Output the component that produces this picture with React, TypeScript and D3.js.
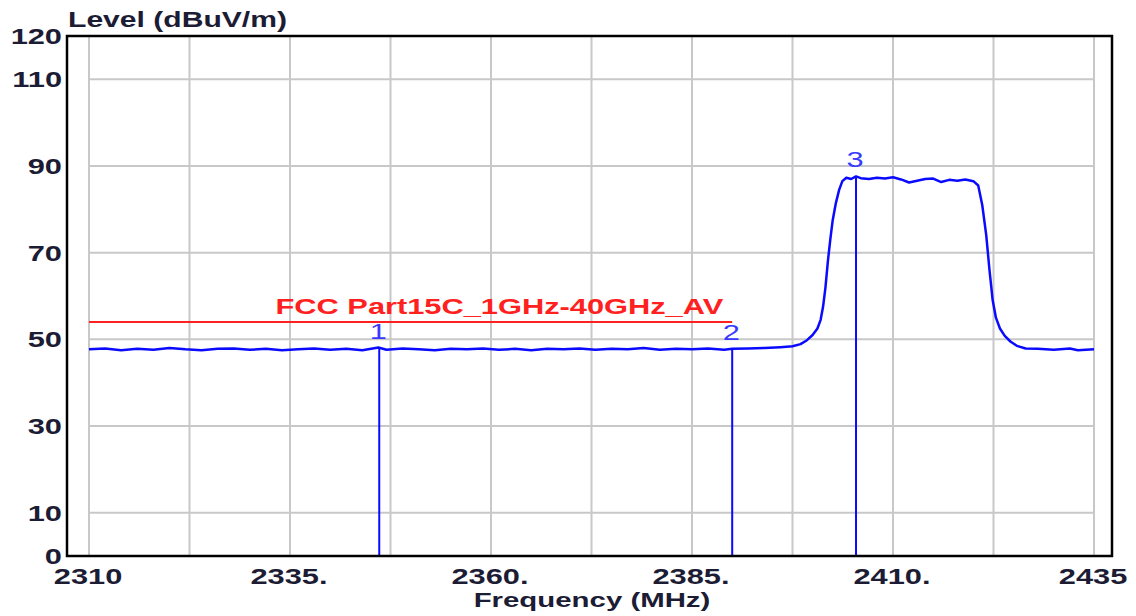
import * as d3 from 'd3';

// trace: [frequency MHz, level dBuV/m]
const traceFreq = [
  2310, 2312, 2314, 2316, 2318, 2320, 2322, 2324, 2326, 2328, 2330, 2332, 2334, 2336, 2338,
  2340, 2342, 2344, 2346, 2347, 2349, 2351, 2353, 2355, 2357, 2359, 2361, 2363, 2365, 2367,
  2369, 2371, 2373, 2375, 2377, 2379, 2381, 2383, 2385, 2387, 2389, 2390, 2392, 2394, 2396,
  2397.5, 2398.5, 2399.3, 2400, 2400.6, 2401, 2401.3, 2401.6, 2401.9, 2402.2, 2402.5, 2402.9,
  2403.3, 2403.7, 2404.2, 2404.8, 2405.4, 2406, 2407, 2408, 2409, 2410, 2411, 2412, 2413,
  2414, 2415, 2416, 2417, 2418, 2419, 2420, 2420.6, 2421.1, 2421.6, 2422, 2422.4, 2422.8,
  2423.3, 2423.9, 2424.6, 2425.4, 2426.5, 2428, 2430, 2432, 2433, 2435,
];
const traceLevel = [
  47.7, 47.9, 47.5, 47.8, 47.6, 48.0, 47.7, 47.5, 47.8, 47.9, 47.6, 47.8, 47.5, 47.7, 47.9,
  47.6, 47.8, 47.5, 48.1, 47.6, 47.9, 47.7, 47.5, 47.8, 47.7, 47.9, 47.6, 47.8, 47.5, 47.8,
  47.7, 47.9, 47.6, 47.8, 47.7, 48.0, 47.6, 47.8, 47.7, 47.9, 47.6, 47.8, 47.9, 48.0, 48.2,
  48.4, 48.9, 49.8, 51.0, 52.5, 54.5, 57.5, 62.0, 68.0, 73.0, 77.5, 81.5,
  84.5, 86.5, 87.3, 87.0, 87.6, 87.2, 87.0, 87.3, 87.1, 87.4, 86.9, 86.2, 86.6,
  87.0, 87.1, 86.3, 86.8, 86.6, 86.9, 86.5, 85.5, 81.0, 74.0, 66.0, 59.0, 55.0,
  52.5, 50.8, 49.5, 48.5, 47.9, 47.8, 47.6, 47.9, 47.5, 47.7,
];

const markerFreq = [2346.1, 2390.0, 2405.4];
const markerLevel = [47.9, 47.8, 87.6];
const markerNames = ['1', '2', '3'];

const limitName = 'FCC Part15C_1GHz-40GHz_AV';
const limitLevel = 54;
const limitFreq = [2310, 2390];

const yGrid = [10, 30, 50, 70, 90, 110];
const yTicks = [0, 10, 30, 50, 70, 90, 110, 120];
const xTicks = [2310, 2335, 2360, 2385, 2410, 2435];
const xTickLabels = ['2310', '2335.', '2360.', '2385.', '2410.', '2435'];

const W = 1136;
const H = 616;
const SX = 1.4; // picture is stretched horizontally
const font = '"Liberation Sans", Arial, sans-serif';
const ink = '#1c1c34';

const x = d3.scaleLinear().domain([2310, 2435]).range([89, 1094]);
const y = d3.scaleLinear().domain([0, 120]).range([556, 36]);

const frame = { left: 67, right: 1112, top: y(120), bottom: y(0) };

const Txt = ({ x0, y0, anchor, size, weight, fill, children }: any) => (
  <text
    transform={`translate(${x0},${y0}) scale(${SX},1)`}
    textAnchor={anchor}
    fontSize={size}
    fontWeight={weight}
    fill={fill}
    fontFamily={font}
  >
    {children}
  </text>
);

export default function App() {
  const pts = traceFreq.map((f, i) => [f, traceLevel[i]] as [number, number]);
  const line = d3
    .line<[number, number]>()
    .x((d) => x(d[0]))
    .y((d) => y(d[1]));
  const vGrid = d3.range(2310, 2435.01, 12.5);

  return (
    <svg
      width={W}
      height={H}
      style={{ position: 'absolute', left: 0, top: 0, background: '#fff' }}
    >
      <rect width={W} height={H} fill="#fff" />

      {/* grid */}
      <g stroke="#c8c8c8" strokeWidth={2}>
        {vGrid.map((f) => (
          <line key={f} x1={x(f)} x2={x(f)} y1={frame.top} y2={frame.bottom} />
        ))}
        {yGrid.map((v) => (
          <line key={v} x1={x(2310)} x2={x(2435)} y1={y(v)} y2={y(v)} />
        ))}
      </g>

      {/* limit line */}
      <line
        x1={x(limitFreq[0])}
        x2={x(limitFreq[1])}
        y1={y(limitLevel)}
        y2={y(limitLevel)}
        stroke="#ff2020"
        strokeWidth={2}
      />
      <Txt x0={x(limitFreq[1]) - 9} y0={y(limitLevel) - 8} anchor="end" size={22} weight="bold" fill="#ff2020">
        {limitName}
      </Txt>

      {/* trace */}
      <path d={line(pts) ?? ''} fill="none" stroke="#0a0aff" strokeWidth={2.5} strokeLinejoin="round" />

      {/* markers */}
      {markerFreq.map((f, i) => (
        <g key={i}>
          <line
            x1={x(f)}
            x2={x(f)}
            y1={y(markerLevel[i])}
            y2={y(0)}
            stroke="#0a0aff"
            strokeWidth={2}
          />
          <Txt x0={x(f) - 1} y0={y(markerLevel[i]) - 9} anchor="middle" size={22} weight="normal" fill="#3a3aff">
            {markerNames[i]}
          </Txt>
        </g>
      ))}

      {/* frame */}
      <rect
        x={frame.left}
        y={frame.top}
        width={frame.right - frame.left}
        height={frame.bottom - frame.top}
        fill="none"
        stroke="#000"
        strokeWidth={2.5}
      />

      {/* y ticks */}
      {yTicks.map((v) => (
        <Txt key={v} x0={62} y0={y(v) + 8} anchor="end" size={22} weight="bold" fill={ink}>
          {v}
        </Txt>
      ))}

      {/* x ticks */}
      {xTicks.map((f, i) => (
        <Txt key={f} x0={x(f) - 1} y0={584} anchor="middle" size={22} weight="bold" fill={ink}>
          {xTickLabels[i]}
        </Txt>
      ))}

      <Txt x0={68} y0={27} anchor="start" size={21.5} weight="bold" fill={ink}>
        Level (dBuV/m)
      </Txt>
      <Txt x0={592} y0={607} anchor="middle" size={21} weight="bold" fill={ink}>
        Frequency (MHz)
      </Txt>
    </svg>
  );
}
